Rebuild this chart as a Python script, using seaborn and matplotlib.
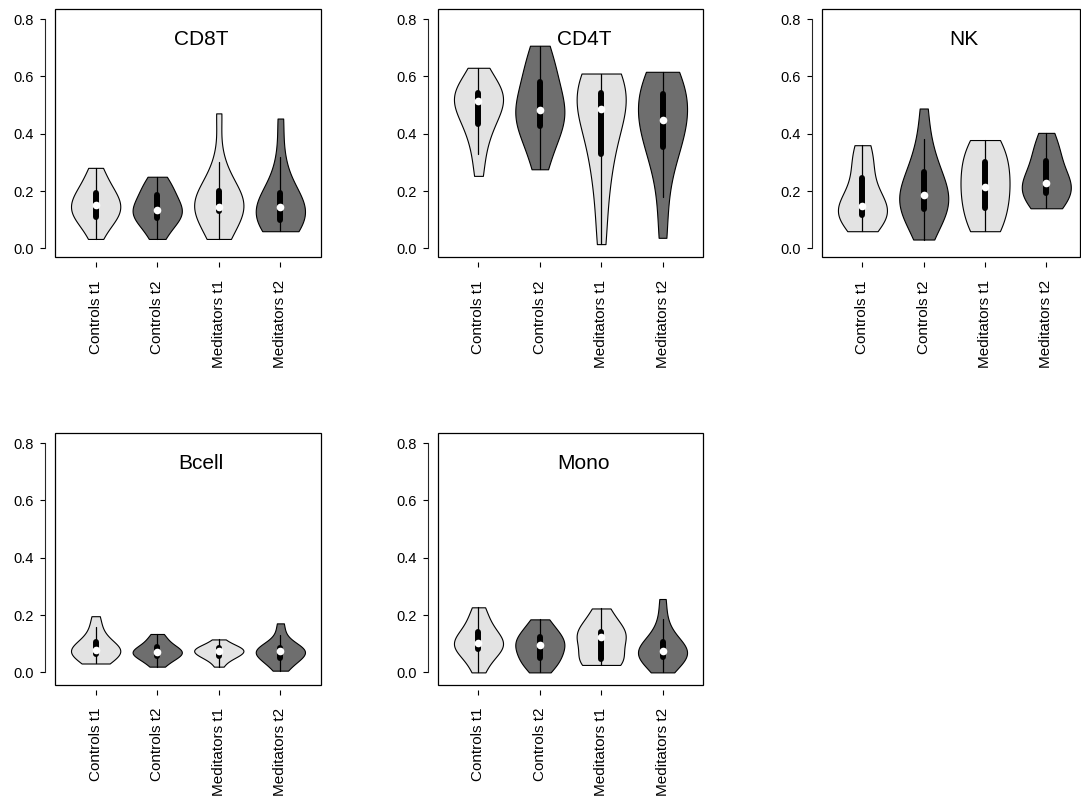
import numpy as np
import pandas as pd
import seaborn as sns
import matplotlib.pyplot as plt
from matplotlib.patches import Rectangle

groups = ["Controls t1", "Controls t2", "Meditators t1", "Meditators t2"]

# proportions per group (min / quartiles / median / max)
cd8t = [
    [0.033, 0.07, 0.10, 0.105, 0.115, 0.13, 0.14, 0.151, 0.16, 0.175, 0.19, 0.198, 0.22, 0.25, 0.281],
    [0.033, 0.06, 0.09, 0.10, 0.11, 0.12, 0.13, 0.134, 0.145, 0.16, 0.18, 0.192, 0.21, 0.23, 0.25],
    [0.033, 0.045, 0.07, 0.12, 0.14, 0.142, 0.144, 0.145, 0.155, 0.17, 0.195, 0.205, 0.24, 0.30, 0.471],
    [0.06, 0.065, 0.075, 0.09, 0.108, 0.12, 0.13, 0.143, 0.15, 0.165, 0.185, 0.203, 0.24, 0.32, 0.453],
]
cd4t = [
    [0.253, 0.33, 0.39, 0.425, 0.443, 0.47, 0.50, 0.515, 0.52, 0.53, 0.537, 0.545, 0.56, 0.59, 0.63],
    [0.276, 0.33, 0.38, 0.42, 0.434, 0.45, 0.47, 0.483, 0.50, 0.53, 0.565, 0.597, 0.63, 0.67, 0.707],
    [0.015, 0.14, 0.27, 0.305, 0.353, 0.44, 0.47, 0.488, 0.52, 0.54, 0.541, 0.545, 0.58, 0.60, 0.61],
    [0.037, 0.18, 0.30, 0.35, 0.36, 0.41, 0.44, 0.448, 0.48, 0.51, 0.53, 0.544, 0.58, 0.60, 0.616],
]
nk = [
    [0.06, 0.09, 0.105, 0.112, 0.12, 0.13, 0.14, 0.149, 0.16, 0.18, 0.23, 0.262, 0.30, 0.34, 0.36],
    [0.031, 0.08, 0.11, 0.13, 0.142, 0.16, 0.175, 0.186, 0.20, 0.22, 0.255, 0.279, 0.32, 0.38, 0.488],
    [0.06, 0.065, 0.09, 0.13, 0.15, 0.18, 0.20, 0.213, 0.24, 0.27, 0.295, 0.305, 0.34, 0.37, 0.378],
    [0.14, 0.145, 0.16, 0.185, 0.203, 0.21, 0.22, 0.229, 0.24, 0.26, 0.295, 0.315, 0.34, 0.37, 0.403],
]
bcell = [
    [0.031, 0.035, 0.045, 0.06, 0.07, 0.072, 0.075, 0.078, 0.082, 0.09, 0.10, 0.114, 0.13, 0.16, 0.196],
    [0.02, 0.035, 0.045, 0.055, 0.061, 0.065, 0.068, 0.07, 0.074, 0.08, 0.087, 0.093, 0.105, 0.12, 0.134],
    [0.02, 0.04, 0.05, 0.056, 0.06, 0.065, 0.07, 0.075, 0.077, 0.08, 0.083, 0.087, 0.092, 0.10, 0.115],
    [0.006, 0.025, 0.04, 0.048, 0.052, 0.06, 0.07, 0.076, 0.078, 0.08, 0.083, 0.087, 0.10, 0.13, 0.171],
]
mono = [
    [0.0, 0.03, 0.06, 0.075, 0.085, 0.09, 0.095, 0.101, 0.11, 0.12, 0.135, 0.149, 0.17, 0.20, 0.227],
    [0.0, 0.02, 0.035, 0.045, 0.053, 0.07, 0.085, 0.095, 0.10, 0.11, 0.12, 0.128, 0.145, 0.165, 0.185],
    [0.026, 0.028, 0.035, 0.04, 0.05, 0.07, 0.10, 0.124, 0.128, 0.132, 0.137, 0.147, 0.17, 0.20, 0.223],
    [0.0, 0.02, 0.035, 0.05, 0.054, 0.062, 0.07, 0.076, 0.08, 0.09, 0.10, 0.114, 0.14, 0.185, 0.256],
]

panels = [("CD8T", cd8t), ("CD4T", cd4t), ("NK", nk), ("Bcell", bcell), ("Mono", mono)]
light = "#e3e3e3"
dark = "#6e6e6e"

sns.set_style("ticks")
plt.rcParams["font.family"] = ["Liberation Sans", "DejaVu Sans"]
plt.rcParams["text.color"] = "black"
plt.rcParams["xtick.color"] = "black"
plt.rcParams["ytick.color"] = "black"

W, H = 1081, 801
fig = plt.figure(figsize=(W / 100, H / 100), dpi=100)

def px_rect(l, t, r, b):
    return [l / W, 1 - b / H, (r - l) / W, (b - t) / H]

# pixel boxes of each panel
boxes = [(55, 9.3, 321, 257.3), (438, 9.3, 703, 257.3), (822, 9.3, 1080, 257.3),
         (55, 433.3, 321, 685), (438, 433.3, 703, 685)]
ylims = [(-0.031, 0.834)] * 3 + [(-0.044, 0.834)] * 2
xright = [3.66, 3.66, 3.55, 3.66, 3.66]

for i, (name, vals) in enumerate(panels):
    ax = fig.add_axes(px_rect(*boxes[i]))
    df = pd.DataFrame({
        "group": np.repeat(groups, [len(v) for v in vals]),
        "value": np.concatenate(vals),
    })
    sns.violinplot(data=df, x="group", y="value", hue="group", order=groups,
                   hue_order=groups, palette=[light, dark, light, dark],
                   saturation=1, cut=0, density_norm="width", width=0.8,
                   bw_adjust=1.1, gridsize=60,
                   inner="box", linecolor="black", linewidth=0.8,
                   inner_kws=dict(box_width=4.3, whis_width=0.9),
                   legend=False, ax=ax)
    sns.pointplot(data=df, x="group", y="value", order=groups, estimator="median",
                  errorbar=None, linestyle="none", marker="o", color="white",
                  markersize=5.5, markeredgewidth=0, ax=ax, zorder=5)
    ax.set_xlim(-0.66, xright[i])
    ax.set_ylim(*ylims[i])
    ax.set_xlabel("")
    ax.set_ylabel("")

    for s in ["top", "right", "bottom"]:
        ax.spines[s].set_visible(False)
    ax.spines["left"].set_position(("outward", 7.5))
    ax.spines["left"].set_bounds(0, 0.8)
    ax.spines["left"].set_linewidth(0.8)
    ax.spines["bottom"].set_position(("outward", 3.6))
    ax.add_patch(Rectangle((0, 0), 1, 1, transform=ax.transAxes, fill=False,
                           edgecolor="black", linewidth=0.9, clip_on=False))

    ax.set_yticks([0.0, 0.2, 0.4, 0.6, 0.8])
    ax.set_yticklabels(["0.0", "0.2", "0.4", "0.6", "0.8"])
    ax.set_xticks(range(len(groups)))
    ax.set_xticklabels(groups, rotation=90)
    ax.tick_params(axis="y", length=3.8, width=0.8, pad=4, labelsize=10.5)
    ax.tick_params(axis="x", length=3.8, width=0.8, pad=9, labelsize=11)

    ax.text(0.55, 0.858, name, transform=ax.transAxes, ha="center",
            va="baseline", fontsize=15)

fig.savefig("out.png", dpi=100)
